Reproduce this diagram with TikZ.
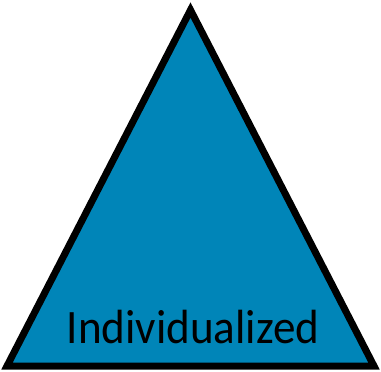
\documentclass[tikz,border=0pt]{standalone}
\usepackage{fontspec}
\setmainfont{Carlito}
\definecolor{triblue}{RGB}{0,133,184}
\tikzset{tri/.style={draw=black,line width=7pt,fill=triblue,line join=miter}}
\begin{document}
\begin{tikzpicture}[x=1pt,y=-1pt]
\useasboundingbox (0,0) rectangle (381,372);
\coordinate (apex) at (190.5,10);
\coordinate (bl) at (7,366);
\coordinate (br) at (374,366);
\draw[tri] (apex) -- (br) -- (bl) -- cycle;
\node[anchor=base,font=\fontsize{48}{48}\selectfont,inner sep=0pt,xscale=0.94] (lbl) at (193,343) {Individualized};
\end{tikzpicture}
\end{document}
